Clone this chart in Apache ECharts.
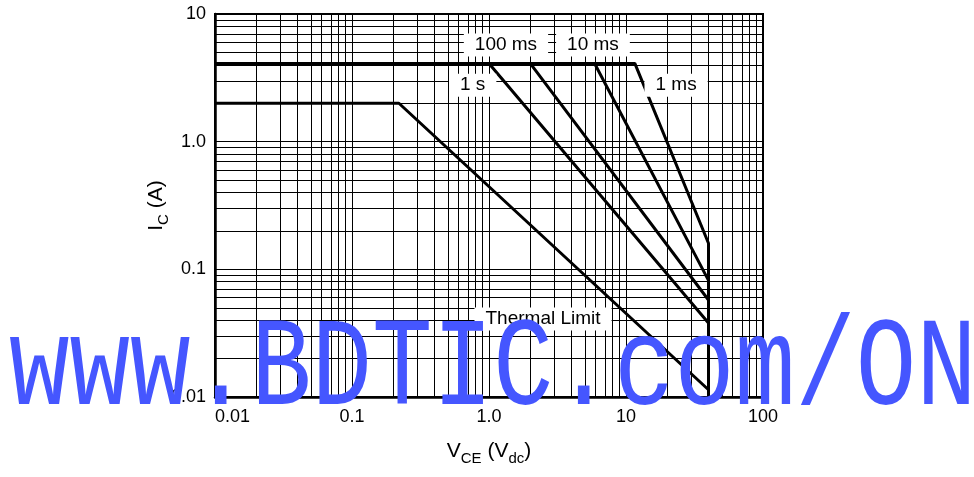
<!DOCTYPE html>
<html>
<head>
<meta charset="utf-8">
<script src="https://cdn.jsdelivr.net/npm/echarts@6/dist/echarts.min.js"></script>
<style>
html, body { margin: 0; padding: 0; background: #fff; }
#chart { width: 974px; height: 477px; }
</style>
</head>
<body>
<div id="chart"></div>
<script>
// tick labels
const xTickLabels = ['0.01', '0.1', '1.0', '10', '100']
const yTickLabels = ['0.01', '0.1', '1.0', '10']
const xDecades = [0.01, 0.1, 1, 10]
const yDecades = [0.01, 0.1, 1]
const minorSteps = [2, 3, 4, 5, 6, 7, 8, 9]

// safe operating area curves, [V_CE, I_C]
const thermalLimit = [[0.01, 2], [0.22, 2], [40, 0.0114]]
const pulse1s = [[0.01, 4.1], [1.0, 4.1], [40, 0.038]]
const pulse100ms = [[0.01, 4.1], [2.0, 4.1], [40, 0.0575]]
const pulse10ms = [[0.01, 4.1], [5.9, 4.1], [40, 0.082]]
const pulse1ms = [[0.01, 4.1], [11.6, 4.1], [40, 0.16], [40, 0.01]]

// curve captions and where they sit (data space)
const captionText = ['1 s', '100 ms', '10 ms', '1 ms', 'Thermal Limit']
const captionAt = [[0.76, 2.77], [1.33, 5.71], [5.74, 5.71], [23.2, 2.77], [2.48, 0.0408]]

const FONT = '"Liberation Sans", Arial, Helvetica, sans-serif'

// minor grid lines (2..9 in every decade)
let minorLines = []
xDecades.forEach(d => minorSteps.forEach(m => minorLines.push({ xAxis: d * m })))
yDecades.forEach(d => minorSteps.forEach(m => minorLines.push({ yAxis: d * m })))

function decadeLabel (labels, base) {
  return function (v) {
    let i = Math.round(Math.log10(v) - Math.log10(base))
    return labels[i] || ''
  }
}

function curve (name, data) {
  return {
    name: name,
    type: 'line',
    data: data,
    symbol: 'none',
    lineStyle: { color: '#000', width: 3 },
    z: 3
  }
}

let titleStyle = {
  fontFamily: FONT,
  fontSize: 21,
  color: '#000',
  lineHeight: 30,
  rich: {
    sub: { fontFamily: FONT, fontSize: 15, color: '#000', verticalAlign: 'bottom', padding: [16, 0, 0, 0] }
  }
}

let myChart = echarts.init(document.getElementById('chart'))
myChart.setOption({
  animation: false,
  backgroundColor: '#fff',
  grid: {
    left: 215,
    right: 211,
    top: 14,
    bottom: 80,
    outerBoundsMode: 'none',
    containLabel: false,
    show: true,
    borderColor: '#000',
    borderWidth: 2
  },
  xAxis: {
    type: 'log',
    logBase: 10,
    min: 0.01,
    max: 100,
    name: 'V{sub|CE} (V{sub|dc})',
    nameLocation: 'middle',
    nameGap: 39,
    nameMoveOverlap: false,
    nameTextStyle: titleStyle,
    axisLine: { show: true, onZero: false, lineStyle: { color: '#000', width: 2.5 } },
    axisTick: { show: false },
    splitLine: { show: true, lineStyle: { color: '#000', width: 1 } },
    axisLabel: {
      formatter: decadeLabel(xTickLabels, 0.01),
      fontFamily: FONT,
      fontSize: 18,
      color: '#000',
      margin: 11,
      alignMinLabel: 'left'
    }
  },
  yAxis: {
    type: 'log',
    logBase: 10,
    min: 0.01,
    max: 10,
    name: 'I{sub|C} (A)',
    nameLocation: 'middle',
    nameGap: 44,
    nameMoveOverlap: false,
    nameTextStyle: titleStyle,
    axisLine: { show: true, lineStyle: { color: '#000', width: 2.5 } },
    axisTick: { show: false },
    splitLine: { show: true, lineStyle: { color: '#000', width: 1 } },
    axisLabel: {
      formatter: decadeLabel(yTickLabels, 0.01),
      fontFamily: FONT,
      fontSize: 18,
      color: '#000',
      margin: 9
    }
  },
  series: [
    {
      name: 'grid',
      type: 'line',
      data: [],
      silent: true,
      z: 1,
      markLine: {
        silent: true,
        symbol: ['none', 'none'],
        label: { show: false },
        lineStyle: { color: '#000', width: 1, type: 'solid' },
        data: minorLines
      }
    },
    curve('Thermal Limit', thermalLimit),
    curve('1 s', pulse1s),
    curve('100 ms', pulse100ms),
    curve('10 ms', pulse10ms),
    curve('1 ms', pulse1ms),
    {
      name: 'captions',
      type: 'scatter',
      symbolSize: 1,
      itemStyle: { color: 'rgba(0,0,0,0)', opacity: 1 },
      silent: true,
      z: 5,
      data: captionText.map((t, i) => ({ name: t, value: captionAt[i] })),
      label: {
        show: true,
        position: 'inside',
        formatter: '{b}',
        fontFamily: FONT,
        fontSize: 19,
        color: '#000',
        opacity: 1,
        backgroundColor: '#fff',
        padding: [2, 11]
      }
    }
  ],
  graphic: [
    {
      type: 'text',
      x: 9,
      y: 371,
      scaleY: 1.25,
      z: 100,
      silent: true,
      style: {
        text: 'www.BDTIC.com/ON',
        fontFamily: '"Liberation Mono", monospace',
        fontSize: 100.8,
        fill: '#4556ff',
        align: 'left',
        verticalAlign: 'middle'
      }
    }
  ]
})
window.addEventListener('resize', function () {
  myChart.resize()
})
</script>
</body>
</html>
